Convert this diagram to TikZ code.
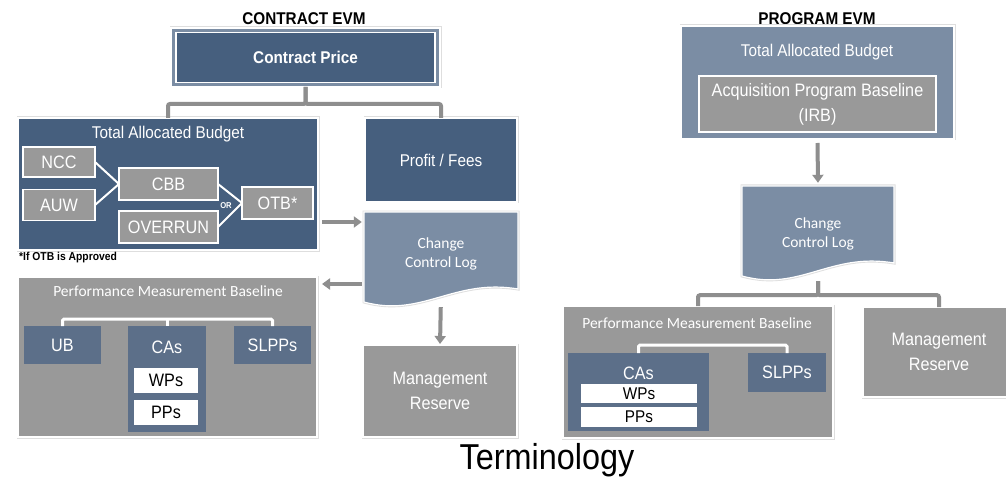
\documentclass[tikz,border=0pt]{standalone}
\usepackage{fontspec}
\setmainfont{Liberation Sans}[FakeStretch=0.9]
\newfontfamily\calfont{Carlito}
\usetikzlibrary{arrows.meta,calc}
\definecolor{dkblue}{HTML}{465F7E}
\definecolor{steel}{HTML}{7B8DA4}
\definecolor{midblue}{HTML}{5C6F89}
\definecolor{boxgrey}{HTML}{999999}
\definecolor{lngrey}{HTML}{8E8E8E}
\begin{document}
\begin{tikzpicture}[x=1pt,y=-1pt,
  box/.style={rectangle, inner sep=0pt, outer sep=0pt, draw=white, line width=1.2pt,
    preaction={draw=black!13, line width=3pt}, text=white, align=center},
  ibox/.style={rectangle, inner sep=0pt, outer sep=0pt, draw=white, line width=1.5pt, text=white, align=center},
  bbox/.style={rectangle, inner sep=0pt, outer sep=0pt, fill=midblue, text=white},
  wbox/.style={rectangle, inner sep=0pt, outer sep=0pt, fill=white, text=black},
  docshape/.style={fill=steel, draw=white, line width=1.2pt, preaction={draw=black!13, line width=3pt}},
  f17/.style={font=\fontsize{17}{21}\selectfont},
  f18/.style={font=\fontsize{18}{25}\selectfont},
  bf17/.style={font=\bfseries\fontsize{17}{21}\selectfont},
  ttl/.style={font=\bfseries\fontsize{17}{20}\selectfont, anchor=base},
  calf/.style={font=\calfont\fontsize{15.5}{19}\selectfont},
  arr/.style={draw=lngrey, line width=4pt, -{Triangle[length=8pt,width=11pt]}},
  conn/.style={draw=lngrey, line width=4pt, rounded corners=2pt},
  bracket/.style={draw=white, line width=3pt, rounded corners=1.5pt},
  wline/.style={draw=white, line width=2pt}]
\useasboundingbox (0,0) rectangle (1006,481);
\clip (0,0) rectangle (1006,481);
\fill[white] (0,0) rectangle (1006,481);

% ---------------- CONTRACT EVM ----------------
\node[ttl] (cevm) at (304,25) {CONTRACT EVM};
\node[box, fill=steel, minimum width=269, minimum height=59] (cpo) at (305.5,57.5) {};
\node[ibox, fill=dkblue, line width=1.2pt, minimum width=259, minimum height=50, bf17] (cp) at (305.5,57.5) {Contract Price};

\node[box, fill=dkblue, minimum width=300, minimum height=132] (tab) at (168,184) {};
\node[f17, text=white, anchor=base] (tabT) at (168,139) {Total Allocated Budget};
\node[ibox, fill=boxgrey, minimum width=72, minimum height=30, f18] (ncc) at (59,162) {NCC};
\node[ibox, fill=boxgrey, minimum width=72, minimum height=31, f18] (auw) at (59,205) {AUW};
\node[ibox, fill=boxgrey, minimum width=99, minimum height=32, f18] (cbb) at (168.5,184) {CBB};
\node[ibox, fill=boxgrey, minimum width=99, minimum height=32, f18] (ovr) at (168.5,227) {OVERRUN};
\node[ibox, fill=boxgrey, minimum width=71, minimum height=32, f18] (otb) at (277.5,203) {OTB*};
\draw[wline] (ncc.east) -- (cbb.west);
\draw[wline] (auw.east) -- (cbb.west);
\draw[wline] (cbb.east) -- (otb.west);
\draw[wline] (ovr.east) -- (otb.west);
\node[font=\bfseries\fontsize{8.5}{9}\selectfont, text=white, inner sep=0pt] (orl) at (226,205.5) {OR};
\node[anchor=base west, inner sep=0pt, font=\bfseries\fontsize{11.5}{13}\selectfont] (note) at (19,260.5) {*If OTB is Approved};

\node[box, fill=dkblue, minimum width=152, minimum height=84, f17] (pf) at (441,160) {Profit / Fees};

\draw[conn] (cpo.south) -- ++(0,17) -| (tab.north);
\draw[conn] (cpo.south) -- ++(0,17) -| (pf.north);

\path[docshape] (364,212) -- (518,212) -- (518,289) .. controls (454,278) and (422,318) .. (364,302) -- cycle;
\node[calf, text=white, align=center, minimum width=154, minimum height=83, inner sep=0pt] (ccl) at (441,253.5) {Change\\Control Log};

\node[box, fill=boxgrey, minimum width=299, minimum height=160] (pmb) at (167.5,357) {};
\node[calf, text=white, anchor=base] (pmbT) at (168,296.5) {Performance Measurement Baseline};
\node[bbox, minimum width=77, minimum height=38, f18] (ub) at (62.5,345) {UB};
\node[bbox, minimum width=78, minimum height=106] (ca) at (167,379) {};
\node[f18, text=white, anchor=base] (caT) at (167,353) {CAs};
\node[bbox, minimum width=77, minimum height=38, f18] (slpp) at (272.5,345) {SLPPs};
\node[wbox, minimum width=64, minimum height=25, f18] (wp) at (166,380.5) {WPs};
\node[wbox, minimum width=64, minimum height=25, f18] (pp) at (166,412.5) {PPs};
\draw[bracket] (ub.north) -- ++(0,-7) -| (slpp.north);
\draw[bracket] (ca.north) -- ++(0,-7);

\node[box, fill=boxgrey, minimum width=154, minimum height=92, f18] (mr) at (440,391) {Management\\Reserve};

\coordinate (yA) at (0,222);
\coordinate (yB) at (0,284);
\draw[arr, shorten <=4pt, shorten >=2pt] (tab.east |- yA) -- (ccl.west |- yA);
\draw[arr, shorten <=2pt, shorten >=5pt] (ccl.west |- yB) -- (pmb.east |- yB);
\draw[arr, shorten <=12pt, shorten >=1pt] (ccl.south) -- (mr.north);

\node[font=\fontsize{36}{40}\selectfont, anchor=base] (term) at (547,469) {Terminology};

% ---------------- PROGRAM EVM ----------------
\node[ttl] (pevm) at (817,24.5) {PROGRAM EVM};
\node[box, fill=steel, minimum width=273, minimum height=113] (ptab) at (817.5,82.5) {};
\node[f17, text=white, anchor=base] (ptabT) at (817,57) {Total Allocated Budget};
\node[ibox, fill=boxgrey, minimum width=237, minimum height=56, f18] (apb) at (817.5,104) {Acquisition Program Baseline\\(IRB)};

\path[docshape] (742,186) -- (894,186) -- (894,263) .. controls (830,252) and (800,292) .. (742,276) -- cycle;
\node[calf, text=white, align=center, minimum width=152, minimum height=95, inner sep=0pt] (pccl) at (818,233.5) {Change\\Control Log};
\draw[arr, shorten <=4pt, shorten >=3pt] (ptab.south) -- (pccl.north);

\node[box, fill=boxgrey, minimum width=270, minimum height=132] (ppmb) at (698,372) {};
\node[calf, text=white, anchor=base] (ppmbT) at (697,328) {Performance Measurement Baseline};
\node[bbox, minimum width=141, minimum height=78] (pca) at (638.5,392) {};
\node[f18, text=white, anchor=base] (pcaT) at (638.5,379) {CAs};
\node[wbox, minimum width=116, minimum height=19, f17] (pwp) at (639,393.5) {WPs};
\node[wbox, minimum width=116, minimum height=20, f17] (ppp) at (639,417) {PPs};
\node[bbox, minimum width=78, minimum height=39, f18] (pslpp) at (787,372.5) {SLPPs};
\draw[bracket] (pca.north) -- ++(0,-8) -| (pslpp.north);

\node[box, fill=boxgrey, minimum width=152, minimum height=90, f18] (pmr) at (939,352) {Management\\Reserve};

\draw[conn] (pccl.south) -- ++(0,14) -| (ppmb.north);
\draw[conn] (pccl.south) -- ++(0,14) -| (pmr.north);
\end{tikzpicture}
\end{document}
